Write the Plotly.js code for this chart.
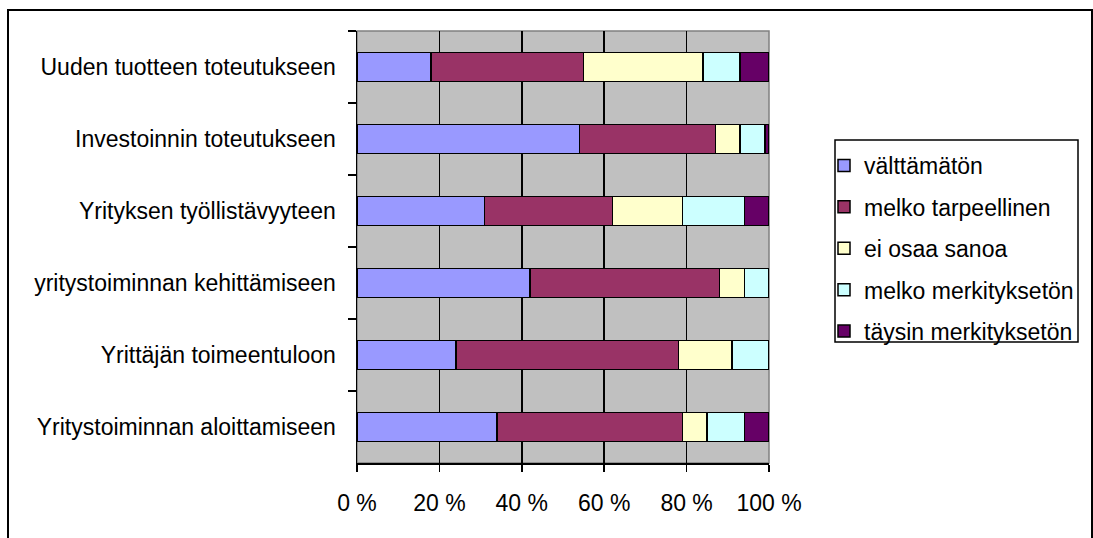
<!DOCTYPE html>
<html>
<head>
<meta charset="utf-8">
<script src="https://cdn.plot.ly/plotly-3.0.1.min.js"></script>
<style>html,body{margin:0;padding:0;background:#fff;}#chart{width:1093px;height:538px;}</style>
</head>
<body>
<div id="chart"></div>
<script>
const categories = [
  "Uuden tuotteen toteutukseen",
  "Investoinnin toteutukseen",
  "Yrityksen työllistävyyteen",
  "yritystoiminnan kehittämiseen",
  "Yrittäjän toimeentuloon",
  "Yritystoiminnan aloittamiseen"
];
const seriesNames = ["välttämätön", "melko tarpeellinen", "ei osaa sanoa", "melko merkityksetön", "täysin merkityksetön"];
const valttamaton        = [18, 54, 31, 42, 24, 34];
const melkoTarpeellinen  = [37, 33, 31, 46, 54, 45];
const eiOsaaSanoa        = [29, 6, 17, 6, 13, 6];
const melkoMerkitykseton = [9, 6, 15, 6, 9, 9];
const taysinMerkitykseton= [7, 1, 6, 0, 0, 6];
const xTickVals = [0, 20, 40, 60, 80, 100];
const xTickText = ["0 %", "20 %", "40 %", "60 %", "80 %", "100 %"];

const colors = ["#9999FF", "#993366", "#FFFFCC", "#CCFFFF", "#660066"];
const series = [valttamaton, melkoTarpeellinen, eiOsaaSanoa, melkoMerkitykseton, taysinMerkitykseton];

const L = 357, R = 769, T = 31, B = 463, W = 1093, H = 538;
const pw = R - L, ph = B - T;
const px = v => (v - L) / pw;
const py = v => (B - v) / ph;

const traces = series.map((vals, i) => ({
  type: "bar",
  orientation: "h",
  name: seriesNames[i],
  y: categories,
  x: vals,
  legendgroup: "g" + i,
  marker: { color: colors[i], line: { color: "#000", width: 1.5 } },
  hoverinfo: "name+x"
}));

const font = { family: "Liberation Sans, Arial, sans-serif", size: 23, color: "#000" };

const layout = {
  width: W, height: H,
  margin: { l: L, r: W - R, t: T, b: H - B, pad: 0 },
  paper_bgcolor: "#fff",
  plot_bgcolor: "#C0C0C0",
  barmode: "stack",
  bargap: 0.6,
  font: font,
  showlegend: true,
  legend: {
    x: px(824), y: py(144), xanchor: "left", yanchor: "top",
    borderwidth: 0, bgcolor: "rgba(0,0,0,0)",
    traceorder: "grouped", tracegroupgap: 8.5,
    font: font, itemwidth: 30
  },
  xaxis: {
    range: [0, 100], tickvals: xTickVals, ticktext: xTickText,
    showgrid: true, gridcolor: "#000", gridwidth: 1.5, zeroline: false,
    showline: true, linecolor: "#000", linewidth: 1.5,
    ticks: "outside", ticklen: 7, tickwidth: 1.5, tickcolor: "#000",
    ticklabelstandoff: 12, fixedrange: true
  },
  yaxis: {
    autorange: "reversed", type: "category",
    showgrid: false, zeroline: false,
    showline: true, linecolor: "#000", linewidth: 1.5,
    ticks: "outside", ticklen: 8, tickwidth: 1.5, tickcolor: "#000",
    tickson: "boundaries", ticklabelstandoff: 15, fixedrange: true
  },
  shapes: [
    { type: "rect", xref: "paper", yref: "paper", x0: 0, x1: 1, y0: 0, y1: 1,
      line: { color: "#808080", width: 1.5 }, fillcolor: "rgba(0,0,0,0)", layer: "below" },
    { type: "rect", xref: "paper", yref: "paper", x0: px(835), x1: px(1078), y0: py(342), y1: py(140),
      line: { color: "#000", width: 1.5 }, fillcolor: "rgba(0,0,0,0)", layer: "above" },
    { type: "rect", xref: "paper", yref: "paper", x0: px(8), x1: px(1092), y0: py(560), y1: py(10),
      line: { color: "#000", width: 2 }, fillcolor: "rgba(0,0,0,0)", layer: "above" }
  ]
};

Plotly.newPlot("chart", traces, layout, { displayModeBar: false, staticPlot: true });
</script>
</body>
</html>
